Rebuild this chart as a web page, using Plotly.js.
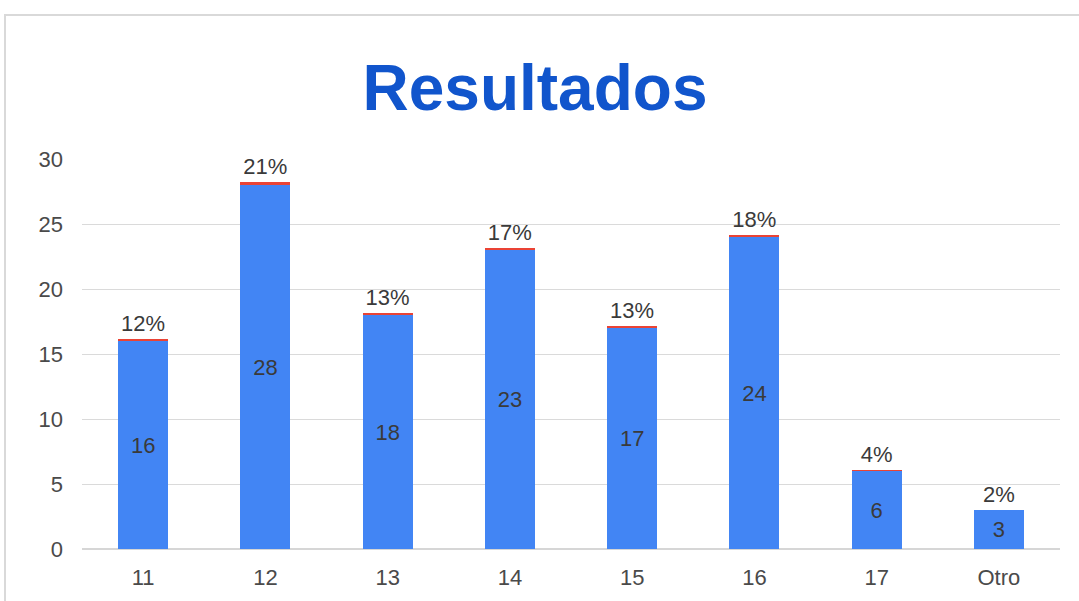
<!DOCTYPE html>
<html>
<head>
<meta charset="utf-8">
<script src="https://cdn.plot.ly/plotly-3.0.1.min.js"></script>
<style>
html,body{margin:0;padding:0;background:#fff;overflow:hidden;}
#chart{width:1079px;height:601px;position:absolute;left:0;top:0;}
#frame{position:absolute;left:4px;top:14px;width:2000px;height:2000px;border-left:2px solid #d9d9d9;border-top:2px solid #d9d9d9;pointer-events:none;}
</style>
</head>
<body>
<div id="chart"></div>
<div id="frame"></div>
<script>
var categories = ['11','12','13','14','15','16','17','Otro'];
var counts = [16, 28, 18, 23, 17, 24, 6, 3];
var shares = [0.12, 0.21, 0.13, 0.17, 0.13, 0.18, 0.04, 0.02];
var shareLabels = ['12%','21%','13%','17%','13%','18%','4%','2%'];

var FONT = 'Arial, Liberation Sans, sans-serif';

var countTrace = {
  type: 'bar', x: categories, y: counts,
  marker: {color: '#4285f4'},
  text: counts.map(String), textposition: 'inside', insidetextanchor: 'middle',
  textfont: {family: FONT, size: 22, color: '#3a3a3a'},
  constraintext: 'none', hoverinfo: 'none'
};
var shareTrace = {
  type: 'bar', x: categories, y: shares,
  marker: {color: '#ea4335'},
  text: shareLabels, textposition: 'outside',
  textfont: {family: FONT, size: 22, color: '#3a3a3a'},
  constraintext: 'none', cliponaxis: false, hoverinfo: 'none'
};

var layout = {
  width: 1079, height: 601,
  margin: {l: 82, r: 19, t: 159, b: 52},
  paper_bgcolor: '#ffffff', plot_bgcolor: '#ffffff',
  barmode: 'stack', bargap: 0.59,
  showlegend: false,
  title: {text: '<b>Resultados</b>', x: 535/1079, xanchor: 'center', xref: 'container',
    y: 1 - 88/601, yref: 'container', yanchor: 'middle',
    font: {family: FONT, size: 64, color: '#1155cc'}},
  xaxis: {type: 'category', showgrid: false, zeroline: false, showline: false, ticks: '',
    tickfont: {family: FONT, size: 22, color: '#4a4a4a'},
    ticklabelstandoff: 13},
  yaxis: {range: [0, 30], dtick: 5, showgrid: true, gridcolor: '#dadada', gridwidth: 1,
    zeroline: true, zerolinecolor: '#d6d6d6', zerolinewidth: 2, showline: false, ticks: '',
    tickfont: {family: FONT, size: 22, color: '#4a4a4a'},
    ticklabelstandoff: 18}
};

Plotly.newPlot('chart', [countTrace, shareTrace], layout, {displayModeBar: false, staticPlot: true});
</script>
</body>
</html>
